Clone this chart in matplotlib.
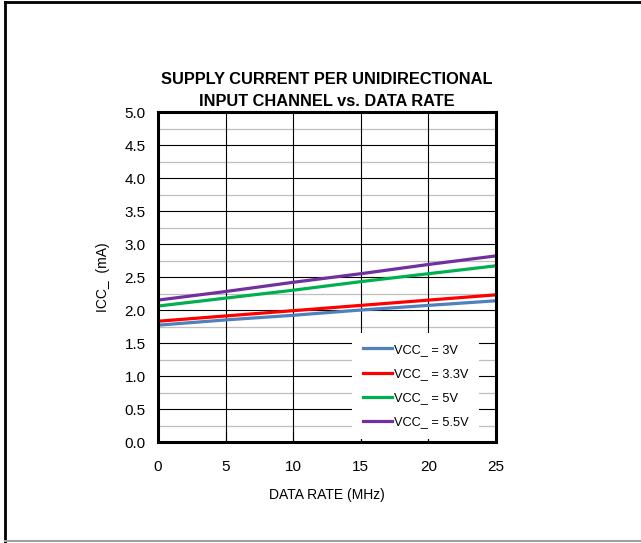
import numpy as np
import matplotlib
matplotlib.use('Agg')
import matplotlib.pyplot as plt
from matplotlib.lines import Line2D

plt.rcParams['font.family'] = ['Liberation Sans', 'DejaVu Sans']

# data
rate = [0, 5, 10, 15, 20, 25]
icc_3v0 = [1.77, 1.85, 1.92, 2.00, 2.07, 2.14]
icc_3v3 = [1.83, 1.91, 1.99, 2.07, 2.15, 2.23]
icc_5v0 = [2.06, 2.18, 2.30, 2.43, 2.55, 2.67]
icc_5v5 = [2.15, 2.28, 2.42, 2.55, 2.69, 2.82]
labels = ['VCC_ = 3V', 'VCC_ = 3.3V', 'VCC_ = 5V', 'VCC_ = 5.5V']
colors = ['#4F81BD', '#FF0000', '#00B050', '#7030A0']

xticks = [0, 5, 10, 15, 20, 25]
yticks = [0.0, 0.5, 1.0, 1.5, 2.0, 2.5, 3.0, 3.5, 4.0, 4.5, 5.0]
yminor = [0.25, 0.75, 1.25, 1.75, 2.25, 2.75, 3.25, 3.75, 4.25, 4.75]

fig = plt.figure(figsize=(6.41, 5.43), dpi=100)
ax = fig.add_axes([0.2465, 0.186, 0.5273, 0.6077])

# grid drawn by hand so the legend can sit over it
for y in yminor:
    ax.axhline(y, color='#BFBFBF', lw=0.9, zorder=1)
for y in yticks:
    ax.axhline(y, color='black', lw=0.8, zorder=1.1)
for x in xticks:
    ax.axvline(x, color='black', lw=0.8, zorder=1.1)

for ys, c, lab in zip([icc_3v0, icc_3v3, icc_5v0, icc_5v5], colors, labels):
    ax.plot(rate, ys, color=c, lw=2.3, label=lab, zorder=4)

ax.set_xlim(0, 25)
ax.set_ylim(0, 5)
ax.set_xticks(xticks)
ax.set_yticks(yticks)
ax.set_yticklabels(['%.1f' % v for v in yticks])
ax.tick_params(axis='x', direction='in', length=7, width=0.8, pad=13, labelsize=11)
ax.tick_params(axis='y', direction='in', length=0, pad=9, labelsize=11)
for s in ax.spines.values():
    s.set_linewidth(2.2)
    s.set_zorder(6)

leg = ax.legend(loc='upper left', bbox_to_anchor=(0.574, 0.33), frameon=True,
                fancybox=False, edgecolor='none', framealpha=1, fontsize=9.2,
                handlelength=2.3, handletextpad=0.1, labelspacing=0.95,
                borderpad=0.85, borderaxespad=0)
leg.set_zorder(2)

ax.set_title('SUPPLY CURRENT PER UNIDIRECTIONAL\nINPUT CHANNEL vs. DATA RATE',
             fontsize=11.8, fontweight='bold', pad=4, linespacing=1.6)
ax.set_xlabel('DATA RATE (MHz)', fontsize=10, labelpad=10)
ax.set_ylabel('ICC_  (mA)', fontsize=10, labelpad=10)

# outer border of the figure
fig.add_artist(Line2D([0.008, 0.008], [0.0, 0.996], color='black', lw=2, transform=fig.transFigure))
fig.add_artist(Line2D([0.008, 1.0], [0.996, 0.996], color='black', lw=2, transform=fig.transFigure))
fig.add_artist(Line2D([0.008, 1.0], [0.004, 0.004], color='#A0A0A0', lw=1.5, transform=fig.transFigure))

fig.savefig('out.png', dpi=100)
